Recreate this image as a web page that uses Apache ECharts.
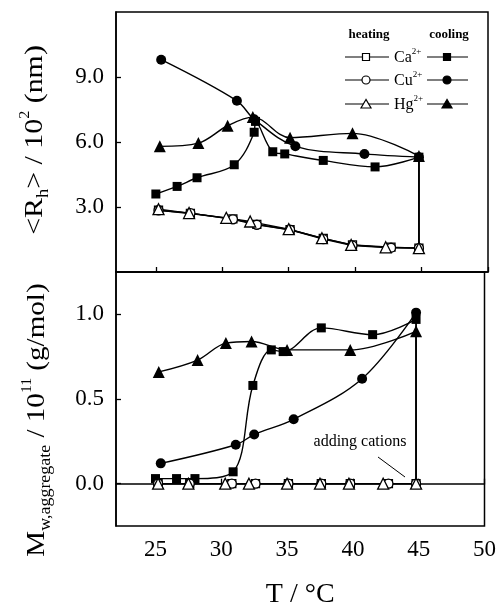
<!DOCTYPE html>
<html>
<head>
<meta charset="utf-8">
<script src="https://cdn.jsdelivr.net/npm/echarts@6/dist/echarts.min.js"></script>
<style>
  html, body { margin: 0; padding: 0; background: #fff; }
  #chart { width: 499px; height: 610px; }
</style>
</head>
<body>
<div id="chart"></div>
<script>
// Tick positions
const xTicks = [25, 30, 35, 40, 45, 50];
const rhTicks = [3, 6, 9];
const mwTicks = [0, 0.5, 1.0];

// <Rh> / 10^2 nm — heating runs (open symbols)
const caHeatT  = [25.2, 27.6, 30.8, 32.6, 35.1, 37.6, 39.8, 42.7, 44.8];
const caHeatRh = [2.85, 2.70, 2.45, 2.20, 1.95, 1.55, 1.25, 1.15, 1.10];
const cuHeatT  = [25.2, 27.6, 30.8, 32.6, 35.1, 37.6, 39.8, 42.7, 44.8];
const cuHeatRh = [2.85, 2.72, 2.43, 2.18, 1.95, 1.52, 1.22, 1.12, 1.10];
const hgHeatT  = [25.2, 27.5, 30.3, 32.1, 35.0, 37.5, 39.7, 42.3, 44.8];
const hgHeatRh = [2.90, 2.72, 2.50, 2.33, 1.98, 1.56, 1.25, 1.14, 1.10];

// <Rh> / 10^2 nm — cooling runs (filled symbols)
const caCoolT  = [25.0, 26.6, 28.1, 30.9, 32.4, 32.5, 33.8, 34.7, 37.6, 41.5, 44.8];
const caCoolRh = [3.60, 3.95, 4.35, 4.95, 6.45, 6.95, 5.55, 5.45, 5.15, 4.85, 5.30];
const cuCoolT  = [25.4, 31.1, 32.4, 35.5, 40.7, 44.8];
const cuCoolRh = [9.80, 7.90, 7.05, 5.80, 5.45, 5.30];
const hgCoolT  = [25.3, 28.2, 30.4, 32.3, 35.1, 39.8, 44.8];
const hgCoolRh = [5.80, 5.95, 6.75, 7.15, 6.20, 6.40, 5.35];

// Mw,aggregate / 10^11 g/mol — heating runs
const caHeatMwT = [25.2, 27.6, 30.8, 32.6, 35.1, 37.6, 39.8, 42.7, 44.8];
const caHeatMw  = [0, 0, 0, 0, 0, 0, 0, 0, 0];
const cuHeatMwT = [25.2, 27.6, 30.8, 32.6, 35.1, 37.6, 39.8, 42.7, 44.8];
const cuHeatMw  = [0, 0, 0, 0, 0, 0, 0, 0, 0];
const hgHeatMwT = [25.2, 27.5, 30.3, 32.1, 35.0, 37.5, 39.7, 42.3, 44.8];
const hgHeatMw  = [0, 0, 0, 0, 0, 0, 0, 0, 0];

// Mw,aggregate / 10^11 g/mol — cooling runs
const caCoolMwT = [25.0, 26.6, 28.0, 30.9, 32.4, 33.8, 34.7, 37.6, 41.5, 44.8];
const caCoolMw  = [0.03, 0.03, 0.03, 0.07, 0.58, 0.79, 0.78, 0.92, 0.88, 0.97];
const cuCoolMwT = [25.4, 31.1, 32.5, 35.5, 40.7, 44.8];
const cuCoolMw  = [0.12, 0.23, 0.29, 0.38, 0.62, 1.01];
const hgCoolMwT = [25.25, 28.2, 30.35, 32.3, 35.0, 39.8, 44.8];
const hgCoolMw  = [0.66, 0.73, 0.83, 0.84, 0.79, 0.79, 0.90];

const SERIF = '"Liberation Serif", "DejaVu Serif", serif';
const pts = (T, V) => T.map((t, i) => [t, V[i]]);
const last = (T, V) => [T[T.length - 1], V[V.length - 1]];

const symSize = { rect: 9, circle: 10, triangle: 12 };

function heating(name, sym, T, V, g) {
  return {
    name, type: 'line', xAxisIndex: g, yAxisIndex: g,
    data: pts(T, V), symbol: sym, symbolSize: symSize[sym] - 1,
    lineStyle: { color: '#000', width: 1.3 },
    itemStyle: { color: '#fff', borderColor: '#000', borderWidth: 1.3 },
    z: 4, animation: false
  };
}
function cooling(name, sym, T, V, g) {
  return {
    name, type: 'line', xAxisIndex: g, yAxisIndex: g,
    data: pts(T, V), symbol: sym, symbolSize: symSize[sym],
    smooth: 0.35,
    lineStyle: { color: '#000', width: 1.4 },
    itemStyle: { color: '#000', borderColor: '#000', borderWidth: 0 },
    z: 3, animation: false
  };
}
// vertical jump at the end of the heating run, where cations are added
function jump(hT, hV, cT, cV, g) {
  return {
    type: 'line', xAxisIndex: g, yAxisIndex: g,
    data: [last(hT, hV), last(cT, cV)], symbol: 'none',
    lineStyle: { color: '#000', width: 1.4 }, z: 2, animation: false
  };
}

const tickLabel = { fontFamily: SERIF, fontSize: 23, color: '#000' };
const nameRich = {
  n:   { fontFamily: SERIF, fontSize: 26, color: '#000', lineHeight: 34 },
  sub: { fontFamily: SERIF, fontSize: 16, color: '#000', lineHeight: 34, verticalAlign: 'bottom' },
  sup: { fontFamily: SERIF, fontSize: 14, color: '#000', lineHeight: 34, verticalAlign: 'top' }
};

function xAxis(g, showLabels) {
  return {
    type: 'value', gridIndex: g, min: 22, max: 50,
    axisLine: { show: true, lineStyle: { color: '#000', width: 1.5 } },
    axisTick: { show: true, inside: true, length: 5, customValues: xTicks, lineStyle: { color: '#000', width: 1.3 } },
    axisLabel: { show: showLabels, customValues: xTicks, margin: 12, ...tickLabel },
    splitLine: { show: false },
    name: showLabels ? 'T / \u00B0C' : '',
    nameLocation: 'middle', nameGap: 55,
    nameTextStyle: { fontFamily: SERIF, fontSize: 28, color: '#000' }
  };
}
function yAxis(g, min, max, ticks) {
  return {
    type: 'value', gridIndex: g, min, max,
    axisLine: { show: true, lineStyle: { color: '#000', width: 1.5 } },
    axisTick: { show: true, inside: true, length: 5, customValues: ticks, lineStyle: { color: '#000', width: 1.3 } },
    axisLabel: { customValues: ticks, margin: 12, formatter: v => v.toFixed(1), ...tickLabel },
    splitLine: { show: false }
  };
}

// Key: open symbol (heating), ion name, filled symbol (cooling)
function keySym(kind, cx, cy, filled) {
  const style = { fill: filled ? '#000' : '#fff', stroke: '#000', lineWidth: 1.2 };
  if (kind === 'rect') return { type: 'rect', shape: { x: cx - 3.5, y: cy - 3.5, width: 7, height: 7 }, style, z: 101 };
  if (kind === 'circle') return { type: 'circle', shape: { cx, cy, r: 4 }, style, z: 101 };
  return { type: 'polygon', shape: { points: [[cx, cy - 4.5], [cx - 5, cy + 4], [cx + 5, cy + 4]] }, style, z: 101 };
}
const keyRows = [
  { ion: 'Ca', sym: 'rect', y: 57 },
  { ion: 'Cu', sym: 'circle', y: 80 },
  { ion: 'Hg', sym: 'triangle', y: 104 }
];
const graphics = [
  { type: 'text', x: 369, y: 35, style: { text: 'heating', font: 'bold 13px ' + SERIF, fill: '#000', align: 'center', verticalAlign: 'middle' } },
  { type: 'text', x: 449, y: 35, style: { text: 'cooling', font: 'bold 13px ' + SERIF, fill: '#000', align: 'center', verticalAlign: 'middle' } }
];
keyRows.forEach(r => {
  graphics.push({ type: 'line', shape: { x1: 345, y1: r.y, x2: 389, y2: r.y }, style: { stroke: '#000', lineWidth: 1.2 }, z: 100 });
  graphics.push(keySym(r.sym, 366, r.y, false));
  graphics.push({ type: 'line', shape: { x1: 427, y1: r.y, x2: 468, y2: r.y }, style: { stroke: '#000', lineWidth: 1.2 }, z: 100 });
  graphics.push(keySym(r.sym, 447, r.y, true));
  graphics.push({
    type: 'text', x: 394, y: r.y + 1,
    style: {
      text: r.ion + '{s|2+}', font: '16px ' + SERIF, fill: '#000', align: 'left', verticalAlign: 'middle',
      rich: { s: { fontFamily: SERIF, fontSize: 9, verticalAlign: 'top', lineHeight: 22 } }
    }
  });
});
graphics.push({ type: 'text', x: 360, y: 442, style: { text: 'adding cations', font: '16px ' + SERIF, fill: '#000', align: 'center', verticalAlign: 'middle' } });
graphics.push({ type: 'line', shape: { x1: 378, y1: 457, x2: 405, y2: 477 }, style: { stroke: '#000', lineWidth: 1 } });

// Rotated y-axis titles
graphics.push({
  type: 'text', x: 35, y: 140, rotation: Math.PI / 2, scaleX: 1.15,
  style: { text: '{n|<R}{sub|h}{n|> / 10}{sup|2}{n| (nm)}', rich: nameRich, align: 'center', verticalAlign: 'middle' }
});
graphics.push({
  type: 'text', x: 37, y: 420, rotation: Math.PI / 2, scaleX: 1.12,
  style: { text: '{n|M}{sub|w,aggregate}{n| / 10}{sup|11}{n| (g/mol)}', rich: nameRich, align: 'center', verticalAlign: 'middle' }
});

const option = {
  backgroundColor: '#fff',
  animation: false,
  grid: [
    { left: 116, right: 11, top: 12, height: 260, show: true, borderColor: '#000', borderWidth: 1.5, backgroundColor: 'transparent' },
    { left: 116, right: 11, top: 272, height: 258, show: true, borderColor: '#000', borderWidth: 1.5, backgroundColor: 'transparent' }
  ],
  xAxis: [xAxis(0, false), xAxis(1, true)],
  yAxis: [
    yAxis(0, 0, 12, rhTicks),
    yAxis(1, -0.25, 1.25, mwTicks)
  ],
  series: [
    jump(caHeatT, caHeatRh, caCoolT, caCoolRh, 0),
    jump(cuHeatT, cuHeatRh, cuCoolT, cuCoolRh, 0),
    jump(hgHeatT, hgHeatRh, hgCoolT, hgCoolRh, 0),
    cooling('Ca2+ cooling', 'rect', caCoolT, caCoolRh, 0),
    cooling('Cu2+ cooling', 'circle', cuCoolT, cuCoolRh, 0),
    cooling('Hg2+ cooling', 'triangle', hgCoolT, hgCoolRh, 0),
    heating('Ca2+ heating', 'rect', caHeatT, caHeatRh, 0),
    heating('Cu2+ heating', 'circle', cuHeatT, cuHeatRh, 0),
    heating('Hg2+ heating', 'triangle', hgHeatT, hgHeatRh, 0),

    jump(caHeatMwT, caHeatMw, caCoolMwT, caCoolMw, 1),
    jump(cuHeatMwT, cuHeatMw, cuCoolMwT, cuCoolMw, 1),
    jump(hgHeatMwT, hgHeatMw, hgCoolMwT, hgCoolMw, 1),
    cooling('Ca2+ cooling', 'rect', caCoolMwT, caCoolMw, 1),
    cooling('Cu2+ cooling', 'circle', cuCoolMwT, cuCoolMw, 1),
    cooling('Hg2+ cooling', 'triangle', hgCoolMwT, hgCoolMw, 1),
    heating('Ca2+ heating', 'rect', caHeatMwT, caHeatMw, 1),
    heating('Cu2+ heating', 'circle', cuHeatMwT, cuHeatMw, 1),
    heating('Hg2+ heating', 'triangle', hgHeatMwT, hgHeatMw, 1)
  ],
  graphic: graphics
};

const chart = echarts.init(document.getElementById('chart'), null, { renderer: 'canvas' });
chart.setOption(option);
</script>
</body>
</html>
